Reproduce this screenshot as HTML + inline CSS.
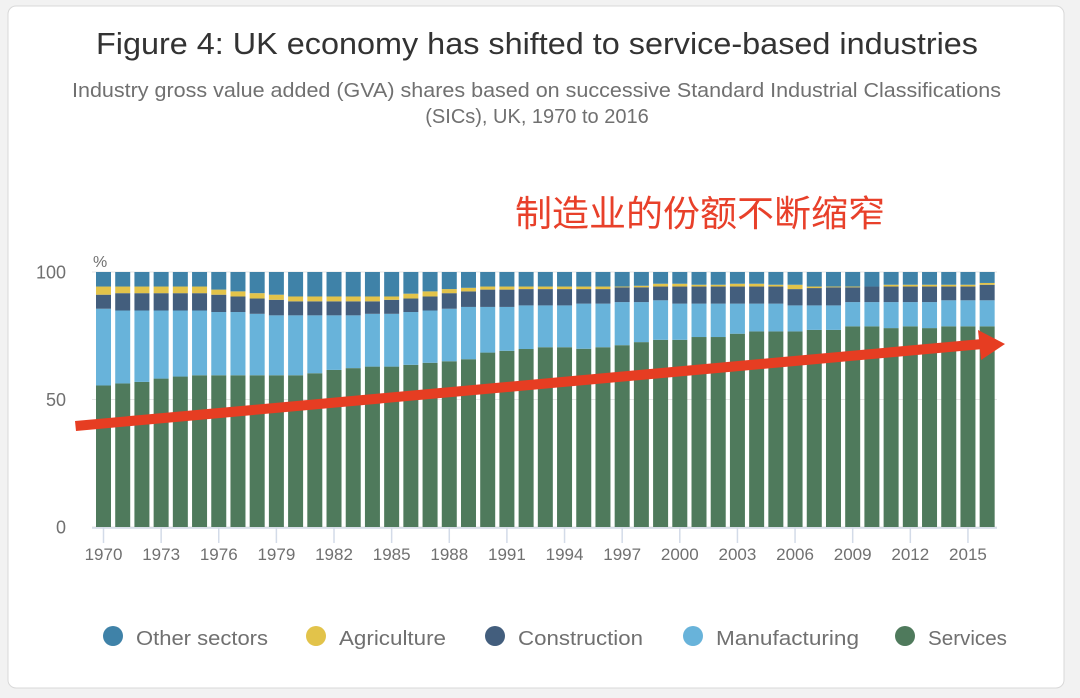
<!DOCTYPE html>
<html><head><meta charset="utf-8"><style>
html,body{margin:0;padding:0;background:#fff;width:1080px;height:698px;overflow:hidden}
svg{display:block}
text{font-family:"Liberation Sans","Noto Sans CJK SC",sans-serif}
</style></head><body>
<svg id="chart" width="1080" height="698" viewBox="0 0 1080 698">
<rect x="0" y="0" width="1080" height="698" fill="#f2f2f2"/>
<rect x="8" y="6" width="1056" height="682" rx="8" fill="#fff" stroke="#d8d8d8"/>
<text x="96" y="54" textLength="882" lengthAdjust="spacingAndGlyphs" font-size="31" fill="#333">Figure 4: UK economy has shifted to service-based industries</text>
<text x="72" y="97" textLength="929" lengthAdjust="spacingAndGlyphs" font-size="20" fill="#707070">Industry gross value added (GVA) shares based on successive Standard Industrial Classifications</text>
<text x="537" y="123" text-anchor="middle" font-size="20" fill="#707070">(SICs), UK, 1970 to 2016</text>
<text x="515" y="226" textLength="370" lengthAdjust="spacingAndGlyphs" font-size="36" fill="#e8402a">制造业的份额不断缩窄</text>
<text x="93" y="267" font-size="16" fill="#707070">%</text>
<g id="yaxis"></g><g id="bars"></g><g id="xaxis"></g>
<g id="arrow">
<polygon points="75,421 982,339 983,349 76,431" fill="#e63d22"/>
<polygon points="978,330 1005,344 981,360" fill="#e63d22"/>
</g>
<g id="legend"></g>
</svg>
<script>
const years=[];for(let y=1970;y<=2016;y++)years.push(y);
const services=[55.5,56.3,56.9,58.2,59.0,59.5,59.5,59.5,59.5,59.5,59.5,60.3,61.6,62.3,62.9,62.9,63.6,64.4,65.0,65.8,68.4,69.1,69.8,70.5,70.5,69.9,70.5,71.3,72.5,73.4,73.4,74.5,74.5,75.8,76.7,76.7,76.7,77.3,77.3,78.7,78.7,78.0,78.7,78.0,78.7,78.7,78.7];
const manufTop=[85.6,84.9,84.9,84.9,84.9,84.9,84.3,84.3,83.6,83.0,83.0,83.0,83.0,83.0,83.6,83.6,84.3,84.9,85.6,86.3,86.3,86.3,86.9,86.9,86.9,87.6,87.6,88.2,88.2,88.9,87.6,87.6,87.6,87.6,87.6,87.6,86.9,86.9,86.9,88.2,88.2,88.2,88.2,88.2,88.9,88.9,88.9];
const constrTop=[91.1,91.7,91.7,91.7,91.7,91.7,91.1,90.4,89.6,89.1,88.5,88.5,88.5,88.5,88.5,89.1,89.6,90.4,91.7,92.4,93.1,93.1,93.3,93.3,93.3,93.3,93.3,94.0,94.0,94.3,94.3,94.3,94.3,94.3,94.3,94.3,93.3,93.7,94.0,94.0,94.3,94.3,94.3,94.3,94.3,94.3,95.0];
const agriTop=[94.3,94.3,94.3,94.3,94.3,94.3,93.1,92.4,91.7,91.1,90.4,90.4,90.4,90.4,90.4,90.4,91.5,92.4,93.3,93.8,94.3,94.3,94.3,94.3,94.3,94.3,94.3,94.3,94.6,95.4,95.4,95.0,95.0,95.4,95.4,95.0,95.0,94.3,94.3,94.3,94.3,95.0,95.0,95.0,95.0,95.0,95.7];
const yTicks=[0,50,100];
const x0=94,pitch=19.21,bw=15,yBase=527,yTop=272;
const ys=v=>yBase-(yBase-yTop)*v/100;
const NS='http://www.w3.org/2000/svg';
function mk(tag,attrs,parent){const e=document.createElementNS(NS,tag);for(const k in attrs)e.setAttribute(k,attrs[k]);parent.appendChild(e);return e;}
const bars=document.getElementById('bars'),xa=document.getElementById('xaxis'),ya=document.getElementById('yaxis'),lg=document.getElementById('legend');
const colors={services:'#4f7a5c',manufacturing:'#68b3da',construction:'#435e7d',agriculture:'#e2c34a',other:'#3f82a8'};
yTicks.forEach(v=>{
  const g=mk('line',{x1:92,x2:997,y1:ys(v),y2:ys(v),stroke:'#e6e6e6','stroke-width':1},ya);
  
  
  const t=mk('text',{x:66,y:ys(v)+6.5,'text-anchor':'end','font-size':18,fill:'#707070'},ya);
  t.textContent=v;
  
  
});
years.forEach((yr,i)=>{
  const x=x0+i*pitch+2;
  const segs=[['services',0,services[i]],['manufacturing',services[i],manufTop[i]],['construction',manufTop[i],constrTop[i]],['agriculture',constrTop[i],agriTop[i]],['other',agriTop[i],100]];
  segs.forEach(s=>{
    const r=mk('rect',{x:x,y:ys(s[2]),width:bw,height:Math.max(0,ys(s[1])-ys(s[2])),fill:colors[s[0]]},bars);
    
    
  });
  if((yr-1970)%3===0){
    const cx=x+bw/2;
    const t=mk('line',{x1:cx,x2:cx,y1:yBase,y2:yBase+16,stroke:'#d3dbe8','stroke-width':1.5},xa);
    
    
    const l=mk('text',{x:cx,y:560,'text-anchor':'middle','font-size':17,fill:'#707070'},xa);
    l.textContent=yr;
    
    
  }
});
const ax=mk('line',{x1:92,x2:997,y1:yBase+1,y2:yBase+1,stroke:'#d3dbe8','stroke-width':1.5},xa);


const legendItems=[['Other sectors','other',113,132],['Agriculture','agriculture',316,107],['Construction','construction',495,125],['Manufacturing','manufacturing',693,143],['Services','services',905,79]];
legendItems.forEach(it=>{
  const g=mk('g',{},lg);
  
  
  mk('circle',{cx:it[2],cy:636,r:10,fill:colors[it[1]]},g);
  const t=mk('text',{x:it[2]+23,y:645,'font-size':20,fill:'#707070',textLength:it[3],lengthAdjust:'spacingAndGlyphs'},g);
  t.textContent=it[0];
});
</script>
</body></html>
